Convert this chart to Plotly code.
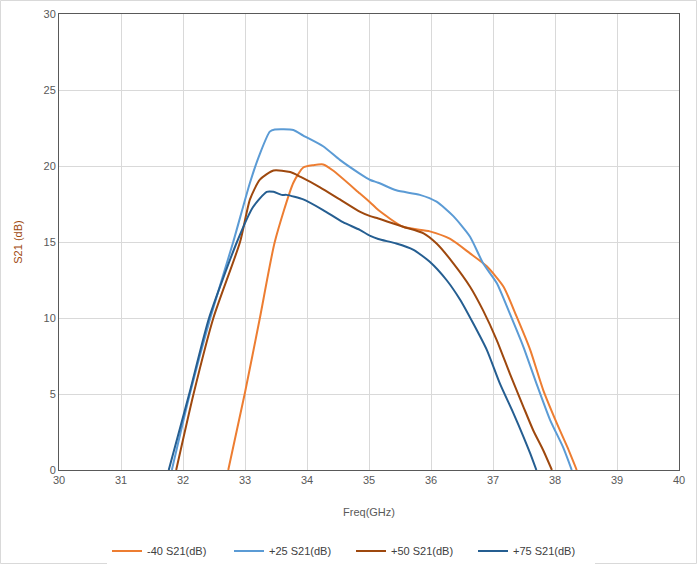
import plotly.graph_objects as go

# -40 S21(dB)
f_m40 = [32.73, 33.0, 33.24, 33.48, 33.78, 33.94, 34.1, 34.26, 34.42, 34.85, 35.02, 35.15, 35.55, 35.98, 36.31, 36.63, 36.9, 37.17, 37.38, 37.6, 37.81, 38.03, 38.2, 38.35]
s_m40 = [0.0, 5.1, 10.0, 15.0, 18.9, 19.9, 20.05, 20.1, 19.7, 18.2, 17.6, 17.1, 16.0, 15.7, 15.2, 14.25, 13.4, 12.06, 10.1, 7.9, 5.26, 3.07, 1.5, 0.0]
# +25 S21(dB)
f_p25 = [31.82, 32.11, 32.44, 32.81, 33.08, 33.24, 33.4, 33.48, 33.78, 33.94, 34.26, 34.53, 34.85, 35.02, 35.15, 35.44, 35.82, 36.09, 36.36, 36.63, 36.84, 37.06, 37.27, 37.49, 37.7, 37.92, 38.13, 38.27]
s_p25 = [0.0, 5.0, 10.0, 15.0, 18.9, 20.8, 22.26, 22.4, 22.37, 22.0, 21.3, 20.4, 19.5, 19.08, 18.9, 18.4, 18.1, 17.65, 16.7, 15.35, 13.6, 12.3, 10.3, 8.1, 5.7, 3.3, 1.5, 0.0]
# +50 S21(dB)
f_p50 = [31.89, 32.17, 32.49, 32.92, 33.08, 33.24, 33.46, 33.73, 33.89, 34.21, 34.53, 34.85, 35.02, 35.15, 35.55, 35.88, 36.09, 36.36, 36.63, 36.84, 37.06, 37.27, 37.49, 37.65, 37.81, 37.95]
s_p50 = [0.0, 5.0, 10.0, 15.0, 17.8, 19.1, 19.7, 19.6, 19.3, 18.6, 17.8, 17.0, 16.7, 16.55, 16.0, 15.57, 14.9, 13.6, 12.06, 10.5, 8.55, 6.36, 4.16, 2.6, 1.3, 0.0]
# +75 S21(dB)
f_p75 = [31.77, 32.1, 32.42, 32.87, 33.13, 33.35, 33.46, 33.59, 33.67, 33.94, 34.26, 34.58, 34.85, 35.02, 35.15, 35.44, 35.71, 35.98, 36.25, 36.47, 36.68, 36.9, 37.11, 37.33, 37.49, 37.6, 37.7]
s_p75 = [0.0, 5.0, 10.0, 15.0, 17.3, 18.3, 18.3, 18.1, 18.1, 17.8, 17.1, 16.3, 15.8, 15.4, 15.2, 14.9, 14.5, 13.7, 12.5, 11.2, 9.65, 7.9, 5.7, 3.73, 2.2, 1.1, 0.0]

series = [
    ("-40 S21(dB)", f_m40, s_m40, "#ED7D31"),
    ("+25 S21(dB)", f_p25, s_p25, "#5B9BD5"),
    ("+50 S21(dB)", f_p50, s_p50, "#9E480E"),
    ("+75 S21(dB)", f_p75, s_p75, "#255E91"),
]

fig = go.Figure()
for name, x, y, c in series:
    fig.add_trace(go.Scatter(x=x, y=y, mode="lines", name=name,
                             line=dict(color=c, width=2, shape="spline", smoothing=0.6)))

font = dict(family="Liberation Sans, Arial, sans-serif", size=11, color="#595959")
fig.update_layout(
    width=697, height=564,
    margin=dict(l=59, r=18, t=14, b=94, autoexpand=False),
    paper_bgcolor="white", plot_bgcolor="white",
    font=font,
    showlegend=True,
    legend=dict(orientation="h", x=(112 - 59 - 5) / 620, xanchor="left", y=-81/456, yanchor="middle",
                entrywidth=77, entrywidthmode="pixels",
                font=dict(family="Liberation Sans, Arial, sans-serif", size=11, color="#404040")),
    xaxis=dict(range=[30, 40], dtick=1, showgrid=True, gridcolor="#D9D9D9", gridwidth=1,
               zeroline=False, showline=True, linecolor="#595959", linewidth=1, mirror=True,
               ticks="", automargin=False,
               title=dict(text="Freq(GHz)", font=dict(size=11, color="#595959"), standoff=23)),
    yaxis=dict(range=[0, 30], dtick=5, showgrid=True, gridcolor="#D9D9D9", gridwidth=1,
               zeroline=False, showline=True, linecolor="#595959", linewidth=1, mirror=True,
               ticks="", automargin=False,
               title=dict(text="S21 (dB)", font=dict(size=11, color="#9E480E"), standoff=18)),
)
fig.add_shape(type="rect", xref="paper", yref="paper", x0=-58.5/620, x1=1+17.5/620,
              y0=-93.5/456, y1=1+13.5/456, line=dict(color="#D9D9D9", width=1))
fig.write_html("out.html", config={"displayModeBar": False},
               post_script="document.body.style.margin='0';")
